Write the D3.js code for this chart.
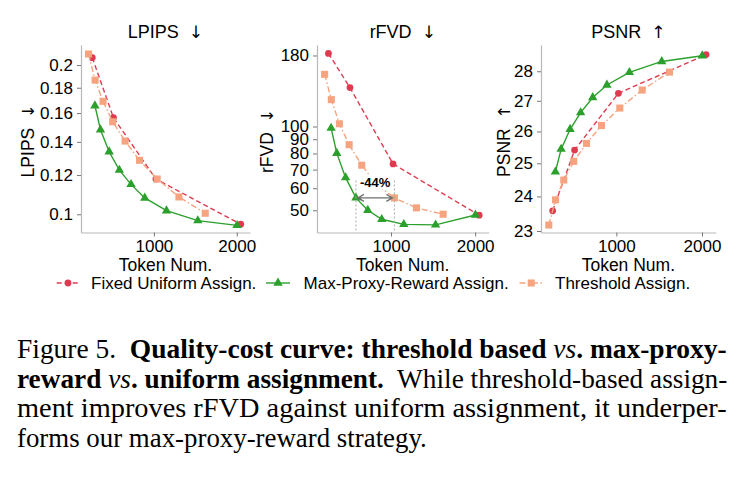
<!DOCTYPE html>
<html><head><meta charset="utf-8">
<script src="https://cdn.jsdelivr.net/npm/d3@7"></script>
<style>body{margin:0;background:#fff} svg{display:block} text{white-space:pre}</style>
</head><body><svg id="c" width="740" height="478"></svg>
<script>
// ---------- data ----------
const seriesNames = ["Fixed Uniform Assign.", "Max-Proxy-Reward Assign.", "Threshold Assign."];
const metricNames = ["LPIPS", "rFVD", "PSNR"];
const metricArrows = ["\u2193", "\u2193", "\u2191"];
const xLabel = "Token Num.";
const xTicks = [1000, 2000];

const tokenFixed     = [256, 512, 1024, 2048];
const tokenMaxProxy  = [288, 355, 460, 583, 724, 890, 1152, 1530, 2003];
const tokenThreshold = [211, 290, 386, 502, 652, 826, 1040, 1302, 1620];

const lpipsFixed     = [0.207, 0.1566, 0.1178, 0.0955];
const lpipsMaxProxy  = [0.1656, 0.1481, 0.1337, 0.1228, 0.1149, 0.1079, 0.1017, 0.0971, 0.0950];
const lpipsThreshold = [0.2105, 0.1865, 0.169, 0.1537, 0.1405, 0.1285, 0.1178, 0.1084, 0.1005];

const rfvdFixed     = [183, 138, 73.4, 48.0];
const rfvdMaxProxy  = [98.7, 80.2, 65.5, 55.4, 50.0, 46.4, 44.5, 44.3, 48.1];
const rfvdThreshold = [154, 124.9, 102.3, 86, 72.6, 62, 55.4, 51, 48.4];

const psnrFixed     = [23.58, 25.41, 27.25, 28.58];
const psnrMaxProxy  = [24.74, 25.44, 26.07, 26.61, 27.11, 27.53, 27.96, 28.34, 28.54];
const psnrThreshold = [23.17, 23.9, 24.49, 25.06, 25.62, 26.19, 26.76, 27.36, 27.97];

const lpipsTicks = [0.1, 0.12, 0.14, 0.16, 0.18, 0.2];
const rfvdTicks  = [50, 60, 70, 80, 90, 100, 180];
const psnrTicks  = [23, 24, 25, 26, 27, 28];

const annotationLabel = "-44%";
const annotationFrom = 583;   // max-proxy token count
const annotationTo = 1040;    // threshold token count
const annotationValue = 55.4; // rFVD level

// ---------- layout ----------
const svg = d3.select("#c");
const FONT = "'Liberation Sans', Arial, sans-serif";
const ARROWFONT = "'DejaVu Sans', sans-serif";
const yBottom = 232.5, yTop = 45;
const xDomain = [120, 2160];

const seriesStyle = [
  {color: "#de3b50", dash: "5,3",            sym: d3.symbolCircle,   size: 36, xs: tokenFixed},
  {color: "#2ca02c", dash: null,             sym: d3.symbolTriangle, size: 38, xs: tokenMaxProxy},
  {color: "#f5a47f", dash: "6,2.5,1.5,2.5",  sym: d3.symbolSquare,   size: 50, xs: tokenThreshold}
];

const panels = [
  {x0: 81,  x1: 250,   ylabX: 28,  yDom: [0.0919, 0.2195], ticks: lpipsTicks, data: [lpipsFixed, lpipsMaxProxy, lpipsThreshold]},
  {x0: 317, x1: 488.6, ylabX: 267, yDom: [41.6, 196.3],    ticks: rfvdTicks,  data: [rfvdFixed, rfvdMaxProxy, rfvdThreshold]},
  {x0: 541, x1: 715.7, ylabX: 504, yDom: [22.958, 28.92],  ticks: psnrTicks,  data: [psnrFixed, psnrMaxProxy, psnrThreshold]}
];

function labelWithArrow(sel, name, arrow, size) {
  sel.append("tspan").attr("font-family", FONT).attr("font-size", size).text(name + "  ");
  sel.append("tspan").attr("font-family", ARROWFONT).attr("font-size", size * 0.95).text(arrow);
}

panels.forEach((p, pi) => {
  const x = d3.scaleLinear().domain(xDomain).range([p.x0, p.x1]);
  const y = d3.scaleLog().domain(p.yDom).range([yBottom, yTop]);
  const g = svg.append("g");

  // axes
  const ax = g.append("g").attr("transform", `translate(0,${yBottom})`)
    .call(d3.axisBottom(x).tickValues(xTicks).tickFormat(d => String(d)).tickSize(4).tickSizeOuter(0).tickPadding(3));
  const ay = g.append("g").attr("transform", `translate(${p.x0},0)`)
    .call(d3.axisLeft(y).tickValues(p.ticks).tickFormat(d => String(d)).tickSize(4).tickSizeOuter(0).tickPadding(4));
  [ax, ay].forEach(a => {
    a.select(".domain").attr("stroke", "#b8b8b8").attr("stroke-width", 1.2);
    a.selectAll(".tick line").attr("stroke", "#777").attr("stroke-width", 1);
    a.selectAll(".tick text").attr("fill", "#000").attr("font-family", FONT).attr("font-size", 17);
  });

  // title
  labelWithArrow(g.append("text").attr("x", (p.x0 + p.x1) / 2).attr("y", 38).attr("text-anchor", "middle"),
    metricNames[pi], metricArrows[pi], 18);
  // y label
  labelWithArrow(g.append("text").attr("transform", `translate(${p.ylabX},${(yBottom + yTop) / 2 + 2}) rotate(-90)`)
    .attr("text-anchor", "middle").attr("dominant-baseline", "central"),
    metricNames[pi], metricArrows[pi], 17.5);
  // x label
  g.append("text").attr("x", (p.x0 + p.x1) / 2).attr("y", 271).attr("text-anchor", "middle")
    .attr("font-family", FONT).attr("font-size", 17.5).text(xLabel);

  // series
  p.data.forEach((vals, si) => {
    const st = seriesStyle[si];
    const pts = vals.map((v, i) => [x(st.xs[i]), y(v)]);
    g.append("path").attr("d", d3.line()(pts)).attr("fill", "none")
      .attr("stroke", st.color).attr("stroke-width", 1.4)
      .attr("stroke-dasharray", st.dash);
    g.selectAll(null).data(pts).join("path")
      .attr("transform", d => `translate(${d[0]},${d[1]})`)
      .attr("d", d3.symbol().type(st.sym).size(st.size)())
      .attr("fill", st.color);
  });

  if (pi === 1) {
    const a = g.append("g");
    const xa = x(annotationFrom), xb = x(annotationTo), ya = y(annotationValue);
    const yTopLine = y(64);
    [xa, xb].forEach(xx => a.append("line").attr("x1", xx).attr("x2", xx)
      .attr("y1", yTopLine).attr("y2", yBottom)
      .attr("stroke", "#aaa").attr("stroke-width", 1).attr("stroke-dasharray", "2,2"));
    const ax1 = xa + 2, ax2 = xb - 2, hl = 6, hw = 3.5;
    a.append("path")
      .attr("d", `M${ax1},${ya}L${ax2},${ya}M${ax1 + hl},${ya - hw}L${ax1},${ya}L${ax1 + hl},${ya + hw}M${ax2 - hl},${ya - hw}L${ax2},${ya}L${ax2 - hl},${ya + hw}`)
      .attr("fill", "none").attr("stroke", "#6f6f6f").attr("stroke-width", 1.3);
    const cx = (xa + xb) / 2, cy = 182;
    a.append("rect").attr("x", cx - 17).attr("y", cy - 8).attr("width", 34).attr("height", 15).attr("fill", "#fff");
    a.append("text").attr("x", cx).attr("y", cy).attr("text-anchor", "middle").attr("dominant-baseline", "central")
      .attr("font-family", FONT).attr("font-size", 13).attr("font-weight", "bold").text(annotationLabel);
  }
});

// ---------- legend ----------
const legendY = 283;
const legendPos = [{l0: 56.7, l1: 79.3, tx: 91}, {l0: 266, l1: 290, tx: 303.6}, {l0: 519.5, l1: 543, tx: 555}];
seriesNames.forEach((name, si) => {
  const st = seriesStyle[si], lp = legendPos[si];
  const g = svg.append("g");
  g.append("line").attr("x1", lp.l0).attr("x2", lp.l1).attr("y1", legendY).attr("y2", legendY)
    .attr("stroke", st.color).attr("stroke-width", 1.4).attr("stroke-dasharray", st.dash);
  g.append("path").attr("transform", `translate(${(lp.l0 + lp.l1) / 2},${legendY})`)
    .attr("d", d3.symbol().type(st.sym).size(st.size)()).attr("fill", st.color);
  g.append("text").attr("x", lp.tx).attr("y", legendY).attr("dominant-baseline", "central")
    .attr("font-family", FONT).attr("font-size", 17).text(name);
});

// ---------- caption ----------
const SERIF = "'Liberation Serif', 'Times New Roman', Times, serif";
const captionLines = [
  [["Figure 5.", "n"], ["  Quality-cost curve: threshold based ", "b"], ["vs", "i"], [". max-proxy-", "b"]],
  [["reward ", "b"], ["vs", "i"], [". uniform assignment.", "b"], ["  While threshold-based assign-", "n"]],
  [["ment improves rFVD against uniform assignment, it underper-", "n"]],
  [["forms our max-proxy-reward strategy.", "n"]]
];
const capBase = [358, 387.5, 417, 446.5];
const capWidth = [710, 711, 710, 410];
captionLines.forEach((line, li) => {
  const g = svg.append("g");
  const t = g.append("text").attr("x", 0).attr("y", 0).style("font-family", SERIF).attr("font-size", 27.5).attr("fill", "#000");
  line.forEach(([s, k]) => {
    t.append("tspan").text(s)
      .attr("font-weight", k === "b" ? "bold" : "normal")
      .attr("font-style", k === "i" ? "italic" : "normal");
  });
  const w = t.node().getComputedTextLength();
  g.attr("transform", `translate(17,${capBase[li]}) scale(${capWidth[li] / w},1)`);
});
</script></body></html>
